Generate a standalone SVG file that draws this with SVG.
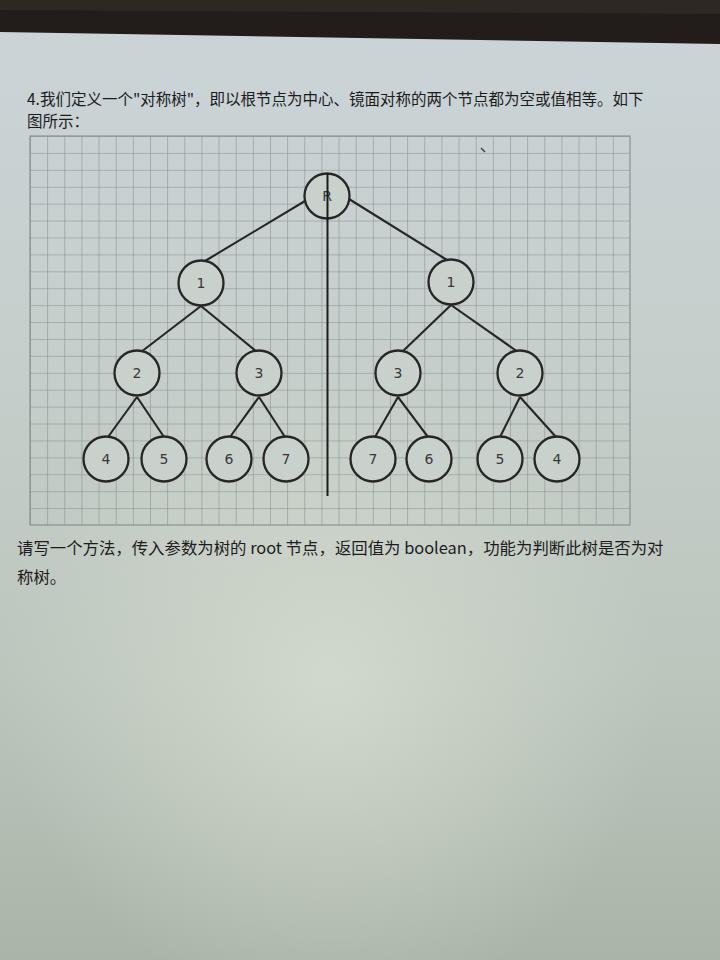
<svg xmlns="http://www.w3.org/2000/svg" width="720" height="960" viewBox="0 0 720 960">
<defs>
<linearGradient id="paper" x1="0" y1="0" x2="0" y2="1">
<stop offset="0" stop-color="#cbd4d8"/>
<stop offset="0.35" stop-color="#c6cfcc"/>
<stop offset="0.7" stop-color="#bcc6bd"/>
<stop offset="1" stop-color="#aab4a8"/>
</linearGradient>
<radialGradient id="glow" cx="330" cy="680" r="330" gradientUnits="userSpaceOnUse">
<stop offset="0" stop-color="#d6dccf" stop-opacity="0.8"/>
<stop offset="1" stop-color="#d6dccf" stop-opacity="0"/>
</radialGradient>
<pattern id="grid" x="30" y="136" width="17.143" height="16.913" patternUnits="userSpaceOnUse">
<path d="M0 0 H17.143 M0 0 V16.913" fill="none" stroke="#848e8a" stroke-width="1.1"/>
</pattern>
<style>
.node circle { fill: #c9d1cd; stroke: #262626; stroke-width: 2.3; }
.node text { font-family: "DejaVu Sans", "Noto Sans", sans-serif; font-size: 14px; fill: #383838; text-anchor: middle; dominant-baseline: central; }
.edges line { stroke: #262626; stroke-width: 2.1; }
.txt { font-family: "Noto Sans CJK SC", "Noto Sans", sans-serif; fill: #1c1c1c; }
</style>
</defs>
<rect width="720" height="960" fill="url(#paper)"/>
<rect width="720" height="960" fill="url(#glow)"/>
<polygon points="0,0 720,0 720,44 0,32" fill="#221d1a"/>
<polygon points="0,0 720,0 720,14 0,10" fill="#2e2823"/>

<text class="txt" x="27" y="105" font-size="15.5">4.我们定义一个"对称树"，即以根节点为中心、镜面对称的两个节点都为空或值相等。如下</text>
<text class="txt" x="27" y="127" font-size="15.5">图所示：</text>

<g id="grid-paper">
<rect x="30" y="136" width="600" height="389" fill="url(#grid)"/>
<rect x="30" y="136" width="600" height="389" fill="none" stroke="#848e8a" stroke-width="1.1"/>
</g>
<path d="M481 148 L485 152" stroke="#3a3a3a" stroke-width="1.5"/>

<g class="edges" id="connectors">
<line x1="305" y1="201" x2="205" y2="261"/>
<line x1="349" y1="199" x2="447" y2="260"/>
<line x1="201" y1="306" x2="141" y2="352"/>
<line x1="201" y1="306" x2="257" y2="352"/>
<line x1="137" y1="397" x2="108" y2="437"/>
<line x1="137" y1="397" x2="164" y2="437"/>
<line x1="259" y1="397" x2="230" y2="437"/>
<line x1="259" y1="397" x2="285" y2="437"/>
<line x1="451" y1="305" x2="402" y2="352"/>
<line x1="451" y1="305" x2="518" y2="352"/>
<line x1="398" y1="397" x2="375" y2="437"/>
<line x1="398" y1="397" x2="428" y2="437"/>
<line x1="520" y1="397" x2="500" y2="437"/>
<line x1="520" y1="397" x2="556" y2="437"/>
</g>

<g class="node" id="n-R"><circle cx="327" cy="196" r="22.5"/><text x="327" y="196">R</text></g>
<g class="node" id="n-L1"><circle cx="201" cy="283" r="22.5"/><text x="201" y="283">1</text></g>
<g class="node" id="n-R1"><circle cx="451" cy="282" r="22.5"/><text x="451" y="282">1</text></g>
<g class="node" id="n-L2"><circle cx="137" cy="373" r="22.5"/><text x="137" y="373">2</text></g>
<g class="node" id="n-L3"><circle cx="259" cy="373" r="22.5"/><text x="259" y="373">3</text></g>
<g class="node" id="n-R3"><circle cx="398" cy="373" r="22.5"/><text x="398" y="373">3</text></g>
<g class="node" id="n-R2"><circle cx="520" cy="373" r="22.5"/><text x="520" y="373">2</text></g>
<g class="node" id="n-L4"><circle cx="106" cy="459" r="22.5"/><text x="106" y="459">4</text></g>
<g class="node" id="n-L5"><circle cx="164" cy="459" r="22.5"/><text x="164" y="459">5</text></g>
<g class="node" id="n-L6"><circle cx="229" cy="459" r="22.5"/><text x="229" y="459">6</text></g>
<g class="node" id="n-L7"><circle cx="286" cy="459" r="22.5"/><text x="286" y="459">7</text></g>
<g class="node" id="n-R7"><circle cx="373" cy="459" r="22.5"/><text x="373" y="459">7</text></g>
<g class="node" id="n-R6"><circle cx="429" cy="459" r="22.5"/><text x="429" y="459">6</text></g>
<g class="node" id="n-R5"><circle cx="500" cy="459" r="22.5"/><text x="500" y="459">5</text></g>
<g class="node" id="n-R4"><circle cx="557" cy="459" r="22.5"/><text x="557" y="459">4</text></g>

<line id="axis" x1="327.5" y1="173" x2="327.5" y2="496" stroke="#1c1c1c" stroke-width="2"/>

<text class="txt" x="17" y="554" font-size="16.4">请写一个方法，传入参数为树的 root 节点，返回值为 boolean，功能为判断此树是否为对</text>
<text class="txt" x="17" y="583" font-size="16.4">称树。</text>
</svg>
